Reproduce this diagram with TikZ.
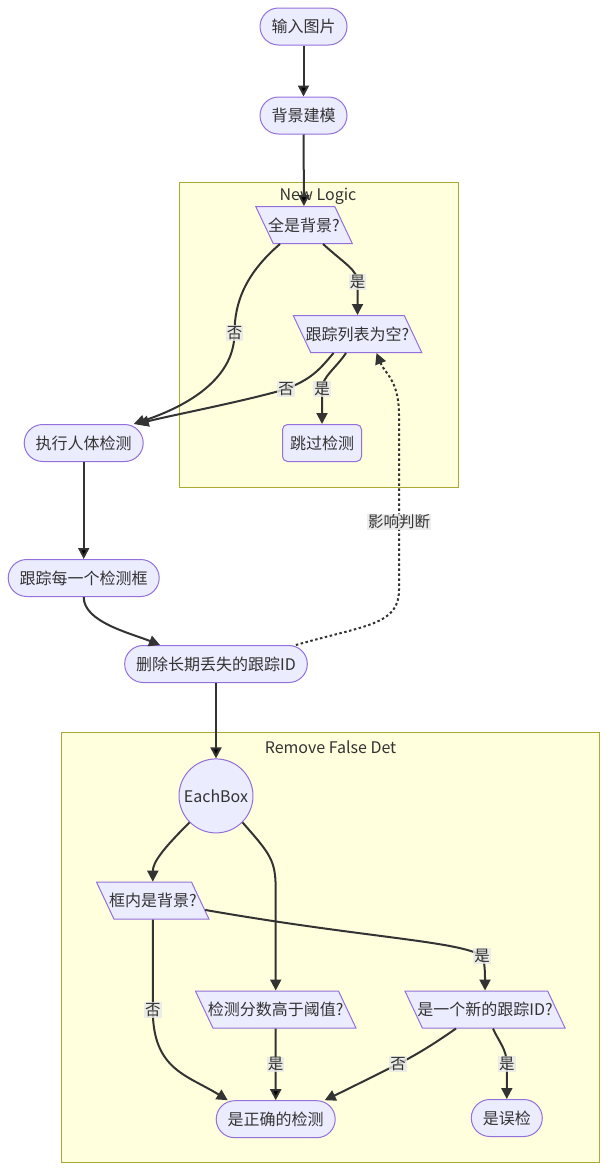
\documentclass[tikz,border=0pt]{standalone}
\usepackage{fontspec}
\setmainfont{Noto Sans CJK SC}
\usepackage{tikz}
\usetikzlibrary{positioning, calc}
\usetikzlibrary{arrows.meta, shapes.geometric}
\definecolor{nodefill}{HTML}{ECECFF}
\definecolor{nodeline}{HTML}{9370DB}
\definecolor{edgecol}{HTML}{333333}
\definecolor{clusterfill}{HTML}{FFFFDE}
\definecolor{clusterline}{HTML}{AAAA33}
\definecolor{labelfill}{HTML}{E8E8E8}
\tikzstyle{stadium}=[rectangle,rounded corners=18.5pt,draw=nodeline,fill=nodefill,
line width=1pt,minimum height=37pt,inner xsep=11.5pt,text=edgecol,
font=\fontsize{16}{18}\selectfont]
\tikzstyle{roundbox}=[stadium,rounded corners=5pt,inner xsep=7.5pt]
\tikzstyle{circlebox}=[circle,draw=nodeline,fill=nodefill,line width=1pt,
minimum size=74pt,inner sep=0pt,text=edgecol,font=\fontsize{16}{18}\selectfont]
\tikzstyle{decisionbox}=[trapezium,trapezium left angle=116.6,
trapezium right angle=63.4,trapezium stretches=true,draw=nodeline,
fill=nodefill,line width=1pt,minimum height=37pt,inner xsep=-5pt,
inner ysep=10pt,text=edgecol,font=\fontsize{16}{18}\selectfont]
\tikzstyle{clusterbox}=[draw=clusterline,fill=clusterfill,line width=1pt]
\tikzstyle{titlebox}=[text=edgecol,font=\fontsize{16}{18}\selectfont]
\tikzstyle{lbl}=[fill=labelfill,fill opacity=0.8,text opacity=1,inner sep=1pt,
text=edgecol,font=\fontsize{15.5}{17}\selectfont]
\tikzstyle{edgepath} = [-{Triangle[length=11pt,width=11pt]},line width=2pt,
draw=edgecol]
\tikzstyle{dotpath} = [edgepath,dash pattern=on 2.5pt off 2.5pt]

\begin{document}
\begin{tikzpicture}[x=1pt,y=-1pt]
    \useasboundingbox (0,0) rectangle (609,1170);
    % subgraphs
    \draw[clusterbox] (179,182) rectangle (458,487);
    \node[titlebox] (newlogic) at (318,196) {New Logic};
    \draw[clusterbox] (61.7,732.7) rectangle (599.3,1162.7);
    \node[titlebox] (removefalse) at (330.5,747.3) {Remove False Det};

    \node[stadium] (in) at (303.5,26.5) {输入图片};
    \node[stadium, below=51pt of in] (bg) {背景建模};
    \node[decisionbox] (allbg) at (304,225) {全是背景?};
    \node[decisionbox] (trkempty) at (357.5,334) {跟踪列表为空?};
    \node[roundbox] (skip) at (322,443) {跳过检测};
    \node[stadium] (detect) at (83.7,443) {执行人体检测};
    \node[stadium, below=97pt of detect] (track) {跟踪每一个检测框};
    \node[stadium] (remove) at (216,664) {删除长期丢失的跟踪ID};
    \node[circlebox, below=75.4pt of remove] (eachbox) {EachBox};
    \node[decisionbox] (inbg) at (152.8,900.7) {框内是背景?};
    \node[decisionbox] (score) at (275.7,1009.5) {检测分数高于阈值?};
    \node[decisionbox] (newid) at (485,1009.5) {是一个新的跟踪ID?};
    \node[stadium, below=71.7pt of score] (truedet) {是正确的检测};
    \node[stadium] (falsedet) at (506.8,1118) {是误检};

    \path[edgepath]
    (in) edge (bg)
    (bg) edge (allbg)
    (detect) edge (track)
    (remove) edge (eachbox)
    (score) edge node[lbl] {是} (truedet);

    % new logic
    \draw[edgepath] ([xshift=19]allbg.south) .. controls +(22,20) and +(0,-12)
      .. (357.5,282) node[lbl] {是} .. controls +(0,12) and +(0,-15) .. (trkempty.north);
    \draw[edgepath] ([xshift=-24]allbg.south) .. controls +(-35,30) and +(0,-30)
      .. (234.5,333) node[lbl] {否} .. controls +(0,50) and +(45,-15)
      .. ([xshift=-10]detect.north east);
    \draw[edgepath] ([xshift=-24]trkempty.south) .. controls +(-15,18) and +(25,-10)
      .. (286,389) node[lbl] {否} .. controls +(-40,12) and +(30,-8)
      .. ([xshift=-6]detect.north east);
    \draw[edgepath] ([xshift=-11.5]trkempty.south) .. controls +(-10,15) and +(0,-12)
      .. (322,389) node[lbl] {是} .. controls +(0,12) and +(0,-12) .. (skip.north);
    \draw[edgepath] (track.south) .. controls +(0,25) and +(-30,-12)
      .. ([xshift=-56]remove.north);
    \draw[dotpath] ([xshift=-12]remove.north east) .. controls +(70,-20) and +(0,35)
      .. (399,590) -- (399,522) node[lbl] {影响判断} -- (399,415)
      .. controls +(0,-35) and +(8,20) .. ([xshift=19]trkempty.south);

    % remove false det
    \draw[edgepath] (eachbox.225) .. controls +(-25,25) and +(0,-20) .. (inbg.north);
    \draw[edgepath] (eachbox.-45) .. controls +(28,32) and +(0,-30)
      .. (275.7,890) -- (score.north);
    \draw[edgepath] (inbg.-10) .. controls +(160,28) and +(-22,-15)
      .. (482,956) node[lbl] {是} .. controls +(3,5) and +(0,-15) .. (newid.north);
    \draw[edgepath] (inbg.south) -- (152.8,1010) node[lbl] {否}
      .. controls +(0,60) and +(-40,-25) .. ([xshift=-48]truedet.north);
    \draw[edgepath] ([xshift=-29]newid.south) .. controls +(-20,14) and +(20,-10)
      .. (398,1064) node[lbl] {否} .. controls +(-30,15) and +(25,-12)
      .. ([xshift=49]truedet.north);
    \draw[edgepath] ([xshift=8]newid.south) .. controls +(5,12) and +(0,-15)
      .. (506.8,1064) node[lbl] {是} -- (falsedet.north);
\end{tikzpicture}
\end{document}
